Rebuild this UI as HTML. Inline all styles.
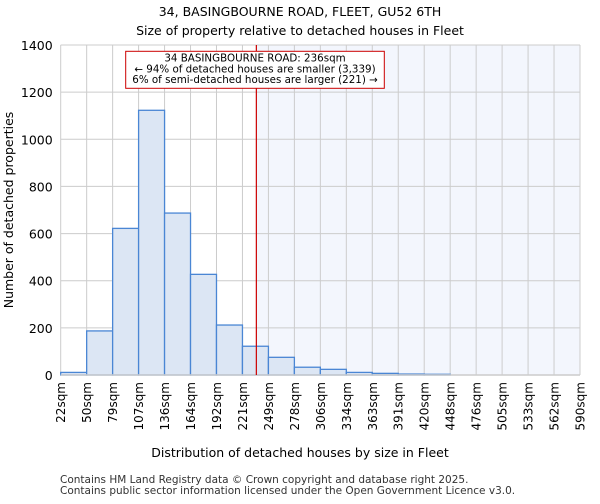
<!DOCTYPE html>
<html><head><meta charset="utf-8"><style>
body{margin:0;background:#fff;font-family:"DejaVu Sans","Liberation Sans",sans-serif}
</style></head><body>
<svg id="c" width="600" height="500" xmlns="http://www.w3.org/2000/svg" font-family="DejaVu Sans, Liberation Sans, sans-serif">
<text x="300" y="16" text-anchor="middle" font-size="12.5">34, BASINGBOURNE ROAD, FLEET, GU52 6TH</text>
<text x="300" y="35" text-anchor="middle" font-size="12.5">Size of property relative to detached houses in Fleet</text>
<g id="grid"></g><g id="bars"></g><g id="axes"></g>
<text x="300" y="457" text-anchor="middle" font-size="12.5">Distribution of detached houses by size in Fleet</text>
<text transform="translate(13,210) rotate(-90)" text-anchor="middle" font-size="12.5">Number of detached properties</text>
<text x="60" y="483" font-size="10.5" fill="#333">Contains HM Land Registry data © Crown copyright and database right 2025.</text>
<text x="60" y="494" font-size="10.5" fill="#333">Contains public sector information licensed under the Open Government Licence v3.0.</text>
</svg>
<script>
const categories=["22sqm","50sqm","79sqm","107sqm","136sqm","164sqm","192sqm","221sqm","249sqm","278sqm","306sqm","334sqm","363sqm","391sqm","420sqm","448sqm","476sqm","505sqm","533sqm","562sqm","590sqm"];
const counts=[11,187,622,1123,687,427,212,122,75,33,24,11,7,4,3,0,0,0,0,0];
const yTicks=[0,200,400,600,800,1000,1200,1400];
const propertyValue=236;
const binStart=22, binWidth=28.4;
const NS="http://www.w3.org/2000/svg";
const L=60.7,R=580,T=45,B=375,yMax=1400;
const n=counts.length, bw=(R-L)/n;
const xs=v=>L+(v-binStart)/binWidth*bw;
const ys=v=>B-v/yMax*(B-T);
function mk(tag,attrs,parent){const e=document.createElementNS(NS,tag);for(const k in attrs)e.setAttribute(k,attrs[k]);document.getElementById(parent).appendChild(e);return e;}
const px=xs(propertyValue);
let e=mk('rect',{x:px,y:T,width:R-px,height:B-T,fill:'#f3f6fd'},'grid');


yTicks.forEach(t=>{
 let g=mk('line',{x1:L,x2:R,y1:ys(t),y2:ys(t),stroke:'#ccc','stroke-width':1},'grid');
 
 
 let tx=mk('text',{x:L-8,y:ys(t)+5,'text-anchor':'end','font-size':12.5},'axes');
 tx.textContent=t;
 
 
});
categories.forEach((c,i)=>{
 const x=L+i*bw;
 let g=mk('line',{x1:x,x2:x,y1:T,y2:B,stroke:'#ccc','stroke-width':1},'grid');
 
 
 let tx=mk('text',{transform:`translate(${x+4.5},382) rotate(-90)`,'text-anchor':'end','font-size':12},'axes');
 tx.textContent=c;
 
 
});
counts.forEach((v,i)=>{
 if(v<=0)return;
 let b=mk('rect',{x:L+i*bw,y:ys(v),width:bw,height:B-ys(v),fill:'#dce6f4',stroke:'#4a86d4','stroke-width':1.3},'bars');
 
 
});
let ax=mk('line',{x1:L,x2:R,y1:B,y2:B,stroke:'#ccc','stroke-width':1.5},'axes');


let rl=mk('line',{x1:px,x2:px,y1:T,y2:B,stroke:'#cc0000','stroke-width':1.2},'axes');


let box=mk('rect',{x:125.7,y:51.3,width:258.6,height:37,fill:'#fff',stroke:'#cc0000','stroke-width':1},'axes');


["34 BASINGBOURNE ROAD: 236sqm","← 94% of detached houses are smaller (3,339)","6% of semi-detached houses are larger (221) →"].forEach((s,i)=>{
 let t=mk('text',{x:255,y:61.5+i*10.8,'text-anchor':'middle','font-size':10.3},'axes');
 t.textContent=s;
 
 
});
</script>
</body></html>
